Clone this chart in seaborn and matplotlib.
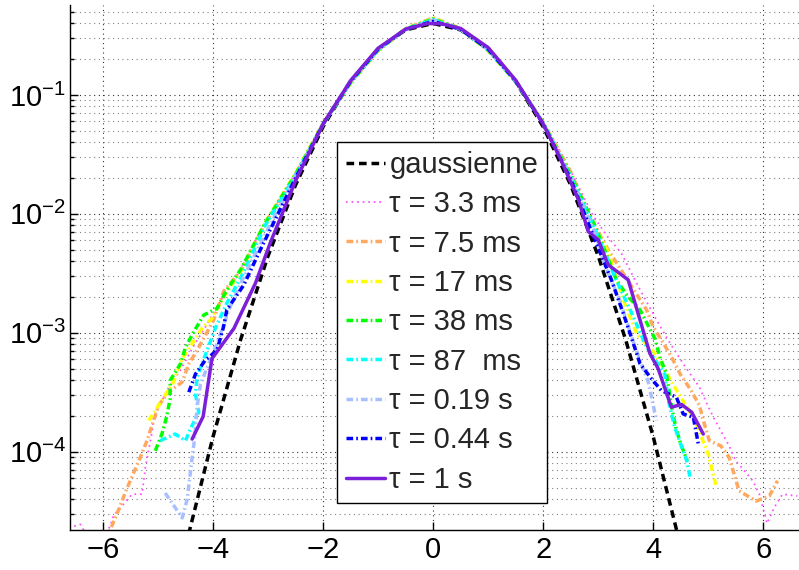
import numpy as np
import pandas as pd
import seaborn as sns
import matplotlib
matplotlib.use("Agg")
import matplotlib.pyplot as plt
from matplotlib.ticker import LogLocator

# --- data (x in units of sigma, y = pdf) ---
x_gauss = [-4.5, -4, -3.5, -3, -2.5, -2, -1.5, -1, -0.5, 0, 0.5, 1, 1.5, 2, 2.5, 3, 3.5, 4, 4.5]
y_gauss = [1.6e-5, 1.34e-4, 8.73e-4, 4.43e-3, 1.75e-2, 5.40e-2, 0.1295, 0.242, 0.352, 0.399,
           0.352, 0.242, 0.1295, 0.054, 0.0175, 4.43e-3, 8.73e-4, 1.34e-4, 1.6e-5]

x_33ms = [-6.62, -6.41, -6.15, -5.87, -5.81, -5.47, -5.29, -5.23, -5.11, -5.08, -4.84, -4.6, -4.35,
          -4.1, -3.85, -3.5, -3.1, -2.5, -2.0, -1.5, -1.0, -0.5, 0.0, 0.5, 1.0, 1.5, 2.0, 2.5, 2.9,
          3.15, 3.42, 3.73, 4.03, 4.27, 4.58, 4.84, 4.99, 5.11, 5.23, 5.38, 5.50, 5.66, 5.81, 5.93,
          6.07, 6.2, 6.35, 6.62]
y_33ms = [2.3e-5, 2.45e-5, 1.5e-5, 2.37e-5, 2.9e-5, 4.4e-5, 4.4e-5, 7.4e-5, 1.46e-4, 1.95e-4,
          3.27e-4, 4.8e-4, 7.8e-4, 1.2e-3, 1.9e-3, 3.4e-3, 7.8e-3, 0.022, 0.058, 0.128, 0.238,
          0.36, 0.435, 0.36, 0.237, 0.13, 0.06, 0.023, 9.8e-3, 6.6e-3, 4.68e-3, 2.45e-3, 1.36e-3,
          8.7e-4, 5.2e-4, 3.5e-4, 2.45e-4, 1.89e-4, 1.5e-4, 1.12e-4, 8.4e-5, 6.9e-5, 5.7e-5,
          4.4e-5, 2.5e-5, 3.4e-5, 4.4e-5, 4.25e-5]

x_75ms = [-5.95, -5.70, -5.58, -5.33, -5.2, -4.99, -4.81, -4.56, -4.44, -4.29, -3.99, -3.81, -3.50,
          -3.08, -2.5, -2.0, -1.5, -1.0, -0.5, 0.0, 0.5, 1.0, 1.5, 2.0, 2.5, 2.88, 3.18, 3.73, 3.88,
          4.0, 4.15, 4.33, 4.49, 4.69, 4.84, 4.93, 5.02, 5.23, 5.38, 5.47, 5.56, 5.87, 6.11, 6.26]
y_75ms = [1.8e-5, 3.39e-5, 4.74e-5, 8.8e-5, 1.24e-4, 2.45e-4, 3.17e-4, 3.86e-4, 5.5e-4, 7.1e-4,
          1.28e-3, 2.22e-3, 3.3e-3, 7.9e-3, 0.0215, 0.057, 0.127, 0.236, 0.362, 0.445, 0.362, 0.236,
          0.13, 0.059, 0.0225, 8.95e-3, 5.0e-3, 2.0e-3, 1.56e-3, 1.12e-3, 8.7e-4, 6.3e-4, 4.5e-4,
          3.27e-4, 2.45e-4, 1.71e-4, 1.24e-4, 1.12e-4, 8.95e-5, 6.5e-5, 4.7e-5, 3.85e-5, 4.25e-5,
          5.7e-5]

x_17ms = [-5.17, -4.99, -4.72, -4.56, -4.38, -4.2, -4.02, -3.81, -3.5, -3.05, -2.5, -2.0, -1.5,
          -1.0, -0.5, 0.0, 0.5, 1.0, 1.5, 2.0, 2.5, 2.9, 3.18, 3.455, 3.70, 4.03, 4.39, 4.76, 5.0, 5.15]
y_17ms = [1.83e-4, 2.45e-4, 3.86e-4, 6.07e-4, 8.1e-4, 1.09e-3, 1.32e-3, 2.0e-3, 3.27e-3, 8.5e-3,
          0.022, 0.058, 0.126, 0.237, 0.358, 0.44, 0.358, 0.236, 0.13, 0.058, 0.021, 8.3e-3,
          4.84e-3, 1.89e-3, 9.86e-4, 6.7e-4, 3.5e-4, 1.83e-4, 9.55e-5, 5.0e-5]

x_38ms = [-5.05, -4.93, -4.84, -4.78, -4.78, -4.59, -4.5, -4.35, -4.17, -3.93, -3.75, -3.50, -3.05,
          -2.5, -2.0, -1.5, -1.0, -0.5, 0.0, 0.5, 1.0, 1.5, 2.0, 2.5, 2.95, 3.33, 3.515, 3.76, 4.03,
          4.12, 4.24, 4.35, 4.41, 4.50, 4.62]
y_38ms = [1.02e-4, 1.41e-4, 2.0e-4, 2.79e-4, 3.98e-4, 5.5e-4, 7.6e-4, 1.02e-3, 1.41e-3, 1.6e-3,
          2.29e-3, 3.39e-3, 8.4e-3, 0.0215, 0.057, 0.127, 0.238, 0.358, 0.435, 0.358, 0.238, 0.13,
          0.058, 0.021, 7.8e-3, 2.79e-3, 2.09e-3, 1.56e-3, 8.95e-4, 6.3e-4, 4.5e-4, 2.2e-4, 1.6e-4,
          1.16e-4, 8.4e-5]

x_87ms = [-4.96, -4.69, -4.50, -4.41, -4.26, -4.32, -4.29, -4.11, -3.96, -3.75, -3.45, -3.05, -2.5,
          -2.0, -1.5, -1.0, -0.5, 0.0, 0.5, 1.0, 1.5, 2.0, 2.5, 2.95, 3.30, 3.61, 3.88, 4.21, 4.27,
          4.39, 4.61, 4.67]
y_87ms = [1.24e-4, 1.41e-4, 1.24e-4, 1.56e-4, 2.15e-4, 3.07e-4, 4.25e-4, 7.1e-4, 1.09e-3, 1.77e-3,
          3.2e-3, 8.0e-3, 0.021, 0.057, 0.128, 0.24, 0.357, 0.43, 0.357, 0.24, 0.13, 0.058, 0.0205,
          7.3e-3, 2.97e-3, 1.46e-3, 7.6e-4, 4.5e-4, 2.79e-4, 1.61e-4, 8.4e-5, 6.07e-5]

x_019s = [-4.87, -4.56, -4.47, -4.38, -4.34, -4.29, -4.23, -3.93, -3.69, -3.44, -3.0, -2.5, -2.0,
          -1.5, -1.0, -0.5, 0.0, 0.5, 1.0, 1.5, 2.0, 2.5, 2.95, 3.12, 3.39, 3.67, 3.91, 4.06]
y_019s = [4.5e-5, 2.78e-5, 4.0e-5, 8.95e-5, 1.24e-4, 2.37e-4, 3.7e-4, 8.1e-4, 1.66e-3, 2.97e-3,
          7.5e-3, 0.0205, 0.057, 0.129, 0.241, 0.356, 0.425, 0.356, 0.241, 0.131, 0.057, 0.02,
          6.8e-3, 3.73e-3, 1.89e-3, 7.6e-4, 3.86e-4, 1.83e-4]

x_044s = [-4.44, -4.32, -4.14, -3.93, -3.81, -3.75, -3.44, -3.14, -2.5, -2.0, -1.5, -1.0, -0.5, 0.0,
          0.5, 1.0, 1.5, 2.0, 2.5, 2.88, 3.24, 3.455, 3.58, 3.76, 3.97, 4.15, 4.42, 4.545, 4.73, 4.82]
y_044s = [3.17e-4, 4.5e-4, 5.9e-4, 7.1e-4, 1.12e-3, 1.56e-3, 2.53e-3, 5.0e-3, 0.02, 0.057, 0.13,
          0.243, 0.356, 0.415, 0.356, 0.243, 0.131, 0.057, 0.0195, 7.1e-3, 2.79e-3, 1.46e-3,
          9.86e-4, 5.5e-4, 4.1e-4, 3.27e-4, 2.88e-4, 2.08e-4, 1.95e-4, 1.16e-4]

x_1s = [-4.38, -4.18, -4.02, -3.62, -3.23, -2.96, -2.5, -2.0, -1.5, -1.0, -0.5, -0.1, 0.15, 0.5, 1.0,
        1.5, 2.0, 2.3, 2.64, 2.82, 3.0, 3.18, 3.545, 3.94, 4.09, 4.33, 4.515, 4.70, 4.91]
y_1s = [1.28e-4, 1.98e-4, 6.07e-4, 1.09e-3, 2.61e-3, 5.7e-3, 0.019, 0.057, 0.132, 0.247, 0.357,
        0.398, 0.397, 0.362, 0.25, 0.133, 0.057, 0.030, 0.0132, 7.1e-3, 6.07e-3, 3.73e-3, 2.79e-3,
        6.7e-4, 5.0e-4, 2.37e-4, 2.5e-4, 2.15e-4, 1.41e-4]

labels = ["gaussienne", "τ = 3.3 ms", "τ = 7.5 ms", "τ = 17 ms", "τ = 38 ms",
          "τ = 87  ms", "τ = 0.19 s", "τ = 0.44 s", "τ = 1 s"]
series = [(x_gauss, y_gauss), (x_33ms, y_33ms), (x_75ms, y_75ms), (x_17ms, y_17ms),
          (x_38ms, y_38ms), (x_87ms, y_87ms), (x_019s, y_019s), (x_044s, y_044s), (x_1s, y_1s)]

colors = ["black", "#ff4dff", "#ffa860", "#ffff00", "#00ff00", "#00ffff", "#a8c0ff", "#0000ff", "#7b1fd9"]
dash_dot = (4.8, 2.2, 1.2, 2.2)
dashes = [(5.5, 3.5), (1.2, 2.8), dash_dot, dash_dot, dash_dot, dash_dot, dash_dot, dash_dot, None]
widths = [2.5, 1.3, 2.5, 2.5, 2.5, 2.5, 2.5, 2.5, 2.5]

sns.set_style("ticks")
plt.rcParams["font.family"] = ["Liberation Sans", "DejaVu Sans"]
plt.rcParams["lines.scale_dashes"] = False

fig = plt.figure(figsize=(7.99, 5.70), dpi=100)
ax = fig.add_axes([70 / 799, 40 / 570, 729 / 799, 525 / 570])

for (xs, ys), lab, c, d, w in zip(series, labels, colors, dashes, widths):
    df = pd.DataFrame({"x": xs, "y": ys})
    sns.lineplot(data=df, x="x", y="y", ax=ax, color=c, lw=w, label=lab,
                 estimator=None, sort=False, legend=False)
    line = ax.lines[-1]
    line.set_label(lab)
    if d is not None:
        line.set_dashes(d)

ax.set_yscale("log")
ax.set_xlim(-6.6, 6.65)
ax.set_ylim(2.2e-5, 0.57)
ax.set_xticks([-6, -4, -2, 0, 2, 4, 6])
ax.yaxis.set_minor_locator(LogLocator(base=10, subs=np.arange(2, 10)))
ax.set_xlabel("")
ax.set_ylabel("")

ax.set_axisbelow(True)
ax.grid(True, which="major", color="0.2", lw=0.8, dashes=(0.8, 2.6))
ax.grid(True, which="minor", axis="y", color="0.5", lw=0.8, dashes=(0.8, 2.6))

ax.tick_params(which="both", direction="in", labelsize=21, width=1, colors="k")
ax.tick_params(which="major", length=6)
ax.tick_params(which="minor", length=3)
ax.tick_params(axis="y", pad=3)
ax.tick_params(axis="x", pad=4)
sns.despine(ax=ax)
for s in ["left", "bottom"]:
    ax.spines[s].set_linewidth(1.0)
    ax.spines[s].set_color("k")

leg = ax.legend(loc="upper left", bbox_to_anchor=(0.366, 0.739), fontsize=21, frameon=True,
                fancybox=False, edgecolor="k", framealpha=1, borderpad=0.3,
                labelspacing=0.39, handlelength=1.35, handletextpad=0.15, borderaxespad=0)
leg.get_frame().set_linewidth(1.0)

fig.savefig("out.png", dpi=100)
